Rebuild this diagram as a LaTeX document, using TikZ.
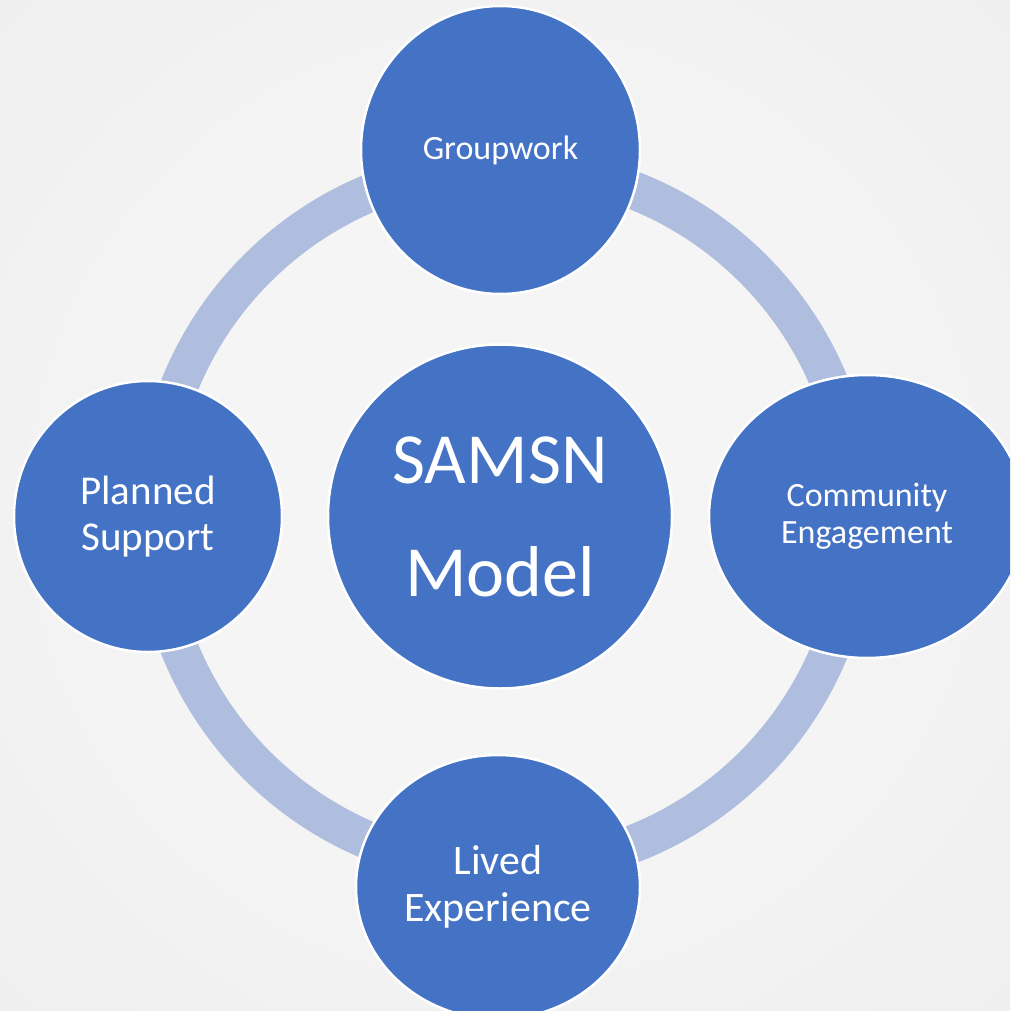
\documentclass[tikz,border=0pt]{standalone}
\usepackage{fontspec}
\setmainfont{Carlito}
\usetikzlibrary{shapes.geometric}
\definecolor{nodeblue}{RGB}{68,114,196}
\definecolor{ringblue}{RGB}{175,189,223}
\definecolor{bgin}{RGB}{245,245,245}
\definecolor{bgmid}{RGB}{235,235,235}
\definecolor{bgout}{RGB}{222,222,222}
\pgfdeclareradialshading{bgshade}{\pgfpoint{0bp}{0bp}}{color(0bp)=(bgin); color(15bp)=(bgin); color(50bp)=(bgmid); color(72bp)=(bgout)}
\tikzset{
  bubble/.style={ellipse, fill=nodeblue, draw=white, line width=2.5pt, text=white, align=center, inner sep=0pt},
  ringline/.style={draw=ringblue, line width=38pt}
}
\begin{document}
\begin{tikzpicture}[x=1pt,y=-1pt]
\useasboundingbox (0,0) rectangle (1010,1011);
\clip (0,0) rectangle (1010,1011);
\shade[shading=bgshade] (0,0) rectangle (1010,1011);
\coordinate (ringc) at (505,517);
\draw[ringline] (ringc) circle [radius=351pt];
\node[bubble, minimum width=344pt, minimum height=344pt, font=\fontsize{72}{113}\selectfont] (samsn) at (500,516.5) {SAMSN\\Model};
\node[bubble, minimum width=279pt, minimum height=288pt, font=\fontsize{34}{37}\selectfont] (group) at (500.5,150) {Groupwork};
\node[bubble, minimum width=316pt, minimum height=283pt, font=\fontsize{34}{37}\selectfont] (comm) at (867,516.5) {Community\\Engagement};
\node[bubble, minimum width=268pt, minimum height=271pt, font=\fontsize{41}{46}\selectfont] (plan) at (148,516.5) {Planned\\Support};
\node[bubble, minimum width=284pt, minimum height=264pt, font=\fontsize{42}{47}\selectfont] (lived) at (498,887) {Lived\\Experience};
\end{tikzpicture}
\end{document}
